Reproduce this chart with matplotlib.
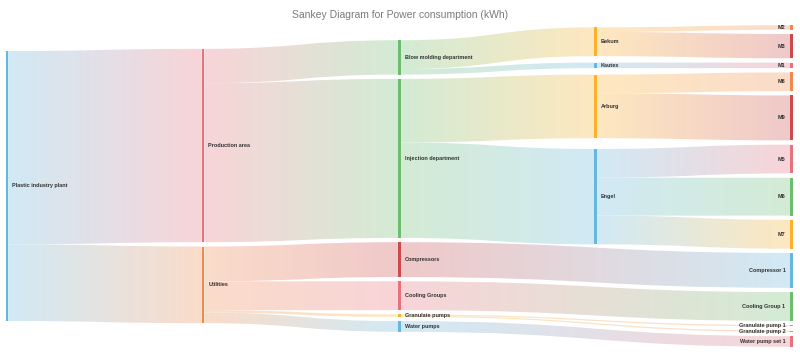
import numpy as np
import matplotlib
matplotlib.use("Agg")
import matplotlib.pyplot as plt
from matplotlib.path import Path
from matplotlib.patches import PathPatch
from matplotlib.colors import to_rgb

title = "Sankey Diagram for Power consumption (kWh)"

node_names = ["Plastic industry plant", "Production area", "Utilities",
              "Blow molding department", "Injection department", "Compressors",
              "Cooling Groups", "Granulate pumps", "Water pumps",
              "Bekum", "Kautex", "Arburg", "Engel",
              "M2", "M3", "M1", "M8", "M9", "M5", "M6", "M7",
              "Compressor 1", "Cooling Group 1", "Granulate pump 1",
              "Granulate pump 2", "Water pump set 1"]
node_columns = [0, 1, 1, 2, 2, 2, 2, 2, 2, 3, 3, 3, 3,
                4, 4, 4, 4, 4, 4, 4, 4, 4, 4, 4, 4, 4]

BLUE, PINK, ORANGE, GREEN, YELLOW, DRED = "#67b7dc", "#e8717e", "#ef8a4e", "#6dbd6f", "#fbb12b", "#cc4a4c"
node_colors = [BLUE, PINK, ORANGE, GREEN, GREEN, DRED, PINK, YELLOW, BLUE,
               YELLOW, BLUE, YELLOW, BLUE,
               ORANGE, DRED, PINK, ORANGE, DRED, PINK, GREEN, YELLOW,
               BLUE, GREEN, ORANGE, ORANGE, PINK]

link_sources = ["Plastic industry plant", "Plastic industry plant",
                "Production area", "Production area",
                "Utilities", "Utilities", "Utilities", "Utilities",
                "Blow molding department", "Blow molding department",
                "Injection department", "Injection department",
                "Bekum", "Bekum", "Kautex", "Arburg", "Arburg",
                "Engel", "Engel", "Engel",
                "Compressors", "Cooling Groups", "Granulate pumps", "Granulate pumps",
                "Water pumps"]
link_targets = ["Production area", "Utilities",
                "Blow molding department", "Injection department",
                "Compressors", "Cooling Groups", "Granulate pumps", "Water pumps",
                "Bekum", "Kautex", "Arburg", "Engel",
                "M2", "M3", "M1", "M8", "M9", "M5", "M6", "M7",
                "Compressor 1", "Cooling Group 1", "Granulate pump 1", "Granulate pump 2",
                "Water pump set 1"]
link_values = [1915, 759,
               340, 1575,
               345, 285, 24, 105,
               285, 55, 630, 945,
               45, 240, 55, 185, 445, 285, 375, 285,
               345, 285, 12, 12, 105]

# ---------------- layout ----------------
W, H = 800, 361
fig = plt.figure(figsize=(W / 100, H / 100), dpi=100)
ax = fig.add_axes([0, 0, 1, 1])
ax.set_xlim(0, W)
ax.set_ylim(H, 0)
ax.axis("off")

x_left, x_right = 5.5, 793.0
node_w = 2.6
gap = 4.3
y_center = 186.0
ncol = max(node_columns) + 1
col_x = [x_left + i * (x_right - x_left - node_w) / (ncol - 1) for i in range(ncol)]

idx = {n: i for i, n in enumerate(node_names)}
N = len(node_names)
inflow = np.zeros(N)
outflow = np.zeros(N)
for s, t, v in zip(link_sources, link_targets, link_values):
    outflow[idx[s]] += v
    inflow[idx[t]] += v
node_val = np.maximum(inflow, outflow)
total = node_val[[i for i in range(N) if node_columns[i] == 0]].sum()
k = 270.0 / total

node_top = np.zeros(N)
node_h = node_val * k
for c in [0, 1, 2, 4]:
    members = [i for i in range(N) if node_columns[i] == c]
    span = node_h[members].sum() + gap * (len(members) - 1)
    y = y_center - span / 2
    for i in members:
        node_top[i] = y
        y += node_h[i] + gap
# column 3: centre each node on the span of its targets
for i in [i for i in range(N) if node_columns[i] == 3]:
    tg = [idx[t] for s, t in zip(link_sources, link_targets) if idx[s] == i]
    lo = min(node_top[j] for j in tg)
    hi = max(node_top[j] + node_h[j] for j in tg)
    node_top[i] = (lo + hi) / 2 - node_h[i] / 2

# ---------------- links ----------------
out_off = node_top.copy()
in_off = node_top.copy()


def light(c, a=0.3):
    r = np.array(to_rgb(c))
    return a * r + (1 - a) * np.ones(3)


for s, t, v in zip(link_sources, link_targets, link_values):
    si, ti = idx[s], idx[t]
    w = v * k
    x0 = col_x[node_columns[si]] + node_w
    x1 = col_x[node_columns[ti]]
    y0 = out_off[si]
    y1 = in_off[ti]
    out_off[si] += w
    in_off[ti] += w
    xm = (x0 + x1) / 2
    verts = [(x0, y0), (xm, y0), (xm, y1), (x1, y1),
             (x1, y1 + w), (xm, y1 + w), (xm, y0 + w), (x0, y0 + w), (x0, y0)]
    codes = [Path.MOVETO, Path.CURVE4, Path.CURVE4, Path.CURVE4,
             Path.LINETO, Path.CURVE4, Path.CURVE4, Path.CURVE4, Path.CLOSEPOLY]
    patch = PathPatch(Path(verts, codes), facecolor="none", edgecolor="none")
    ax.add_patch(patch)
    c0 = light(node_colors[si])
    c1 = light(node_colors[ti])
    n = 64
    tt = np.linspace(0, 1, n)[None, :, None]
    grad = (1 - tt) * c0[None, None, :] + tt * c1[None, None, :]
    ymin = min(y0, y1) - 1
    ymax = max(y0, y1) + w + 1
    im = ax.imshow(grad, extent=(x0, x1, ymax, ymin), aspect="auto",
                   interpolation="bilinear", zorder=1)
    im.set_clip_path(patch)

# ---------------- nodes ----------------
fam = ["Liberation Sans Narrow", "Liberation Sans", "DejaVu Sans"]
for i in range(N):
    c = node_columns[i]
    h = max(node_h[i], 1.0)
    ax.add_patch(plt.Rectangle((col_x[c], node_top[i]), node_w, h,
                               facecolor=node_colors[i], edgecolor="none", zorder=3))
    yc = node_top[i] + node_h[i] / 2
    if c == ncol - 1:
        ax.text(col_x[c] - 5, yc, node_names[i], ha="right", va="center",
                fontsize=4, fontweight="bold", color="#333333", family=fam, zorder=4)
    else:
        ax.text(col_x[c] + node_w + 4, yc, node_names[i], ha="left", va="center",
                fontsize=4, fontweight="bold", color="#333333", family=fam, zorder=4)

ax.text(W / 2, 15, title, ha="center", va="center", fontsize=7.5, color="#7a7a7a",
        family=["Liberation Sans", "DejaVu Sans"])

fig.savefig("out.png", dpi=100)
